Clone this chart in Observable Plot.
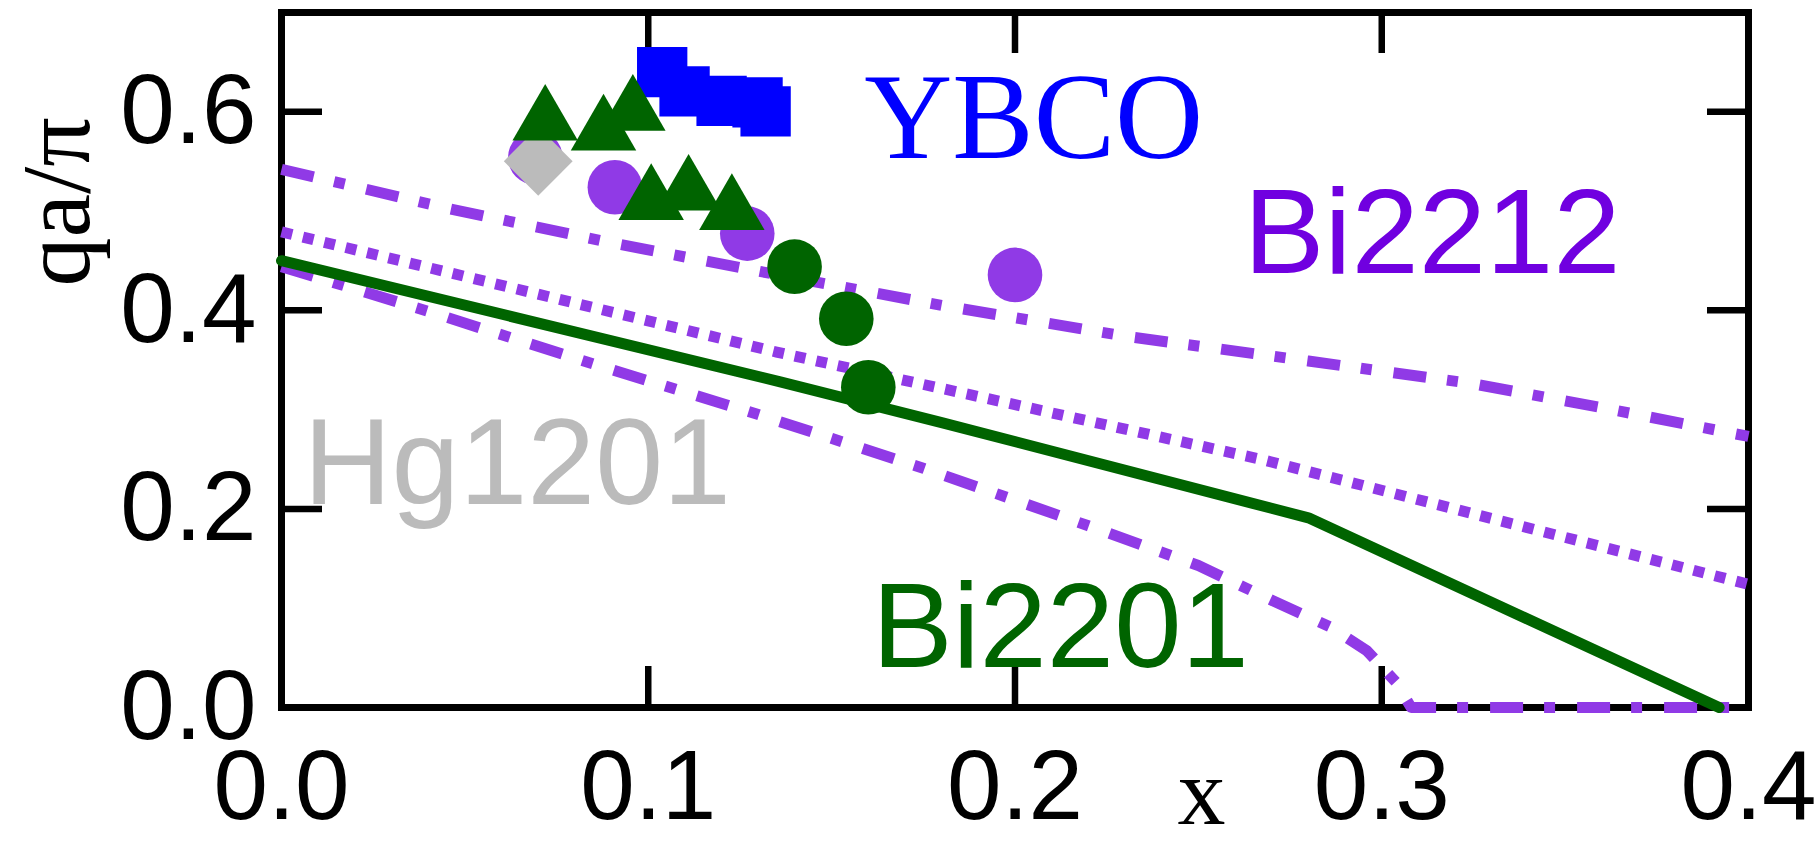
<!DOCTYPE html>
<html><head><meta charset="utf-8">
<script src="https://cdn.jsdelivr.net/npm/d3@7"></script>
<script src="https://cdn.jsdelivr.net/npm/@observablehq/plot@0.6"></script>
<style>html,body{margin:0;padding:0;background:#fff;overflow:hidden}</style>
</head><body><div id="chart"></div>
<script>
// ---- tick values ----
const xTickLabels = [0, 0.1, 0.2, 0.3, 0.4];
const yTickLabels = [0, 0.2, 0.4, 0.6];
const xInnerTicks = [0.1, 0.2, 0.3];
const yInnerTicks = [0.2, 0.4, 0.6];

// ---- markers ----
const ybcoX = [0.1038, 0.1099, 0.1200, 0.1298, 0.1320];
const ybcoY = [0.640, 0.6205, 0.611, 0.6095, 0.6004];
const bi2201TriX = [0.0719, 0.0878, 0.0958, 0.1008, 0.1110, 0.1228];
const bi2201TriY = [0.590, 0.580, 0.600, 0.510, 0.5195, 0.500];
const bi2201CircX = [0.1399, 0.1540, 0.1600];
const bi2201CircY = [0.444, 0.3915, 0.3225];
const bi2212X = [0.0692, 0.0909, 0.1270, 0.2000];
const bi2212Y = [0.554, 0.524, 0.4773, 0.4357];
const hg1201X = [0.0700];
const hg1201Y = [0.5502];

// ---- curves ----
const upperDashDotX = [0, 0.045, 0.09, 0.135, 0.18, 0.23, 0.28, 0.325, 0.36, 0.4];
const upperDashDotY = [0.542, 0.503, 0.468, 0.436, 0.405, 0.374, 0.349, 0.326, 0.302, 0.273];
const dottedX = [0, 0.135, 0.2, 0.267, 0.4];
const dottedY = [0.479, 0.358, 0.305, 0.25, 0.124];
const solidX = [0, 0.136, 0.18, 0.28, 0.392];
const solidY = [0.450, 0.328, 0.287, 0.191, 0];
const lowerDashDotX = [0, 0.04, 0.085, 0.13, 0.175, 0.22, 0.25, 0.27, 0.286, 0.296, 0.304, 0.308, 0.4];
const lowerDashDotY = [0.444, 0.399, 0.346, 0.295, 0.241, 0.183, 0.143, 0.108, 0.081, 0.057, 0.025, 0, 0];

// ---- labels ----
const labelText = ["YBCO", "Bi2212", "Hg1201", "Bi2201"];
const labelX = [0.1589, 0.2624, 0.006, 0.161];
const labelY = [0.5539, 0.438, 0.205, 0.0406];

const zip = (xs, ys) => xs.map((x, i) => ({x, y: ys[i]}));

const W = 1820, H = 845;
const mL = 281, mR = 72, mT = 12, mB = 138;
const pw = W - mL - mR, ph = H - mT - mB;
const tickLen = 41;

const PURPLE = "#903ae6";
const GREEN = "#006400";
const BLUE = "#0000ff";
const GRAY = "#bbbbbb";
const SANS = "Liberation Sans, Arial, Helvetica, sans-serif";
const SERIF = "Liberation Serif, Times New Roman, serif";

const labelMark = (i, fill, font, size) =>
  Plot.text([labelText[i]], {
    x: () => labelX[i], y: () => labelY[i], text: d => d,
    fill, fontFamily: font, fontSize: size, textAnchor: "start", lineAnchor: "bottom"
  });

const chart = Plot.plot({
  width: W, height: H,
  marginLeft: mL, marginRight: mR, marginTop: mT, marginBottom: mB,
  style: {background: "white", fontFamily: SANS, color: "black"},
  x: {domain: [0, 0.4], label: null},
  y: {domain: [0, 0.7], label: null},
  marks: [
    Plot.axisX({ticks: xTickLabels, tickSize: 0, tickPadding: 42, tickFormat: d3.format(".1f"), fontSize: 98, label: null}),
    Plot.axisY({ticks: yTickLabels, tickSize: 0, tickPadding: 25, tickFormat: d3.format(".1f"), fontSize: 98, label: null}),
    Plot.frame({stroke: "black", strokeWidth: 7}),
    Plot.tickY(yInnerTicks, {y: d => d, insetRight: pw - tickLen, stroke: "black", strokeWidth: 6.5}),
    Plot.tickY(yInnerTicks, {y: d => d, insetLeft: pw - tickLen, stroke: "black", strokeWidth: 6.5}),
    Plot.tickX(xInnerTicks, {x: d => d, insetTop: ph - tickLen, stroke: "black", strokeWidth: 6.5}),
    Plot.tickX(xInnerTicks, {x: d => d, insetBottom: ph - tickLen, stroke: "black", strokeWidth: 6.5}),
    // curves
    Plot.line(zip(upperDashDotX, upperDashDotY), {x: "x", y: "y", stroke: PURPLE, strokeWidth: 11, strokeDasharray: "33,21,11,22", strokeLinecap: "butt"}),
    Plot.line(zip(dottedX, dottedY), {x: "x", y: "y", stroke: PURPLE, strokeWidth: 11, strokeDasharray: "11,11", strokeLinecap: "butt"}),
    Plot.line(zip(lowerDashDotX, lowerDashDotY), {x: "x", y: "y", stroke: PURPLE, strokeWidth: 11, strokeDasharray: "33,21,11,22", strokeLinecap: "butt"}),
    Plot.line(zip(solidX, solidY), {x: "x", y: "y", stroke: GREEN, strokeWidth: 11}),
    // markers
    Plot.dot(zip(bi2212X, bi2212Y), {x: "x", y: "y", r: 27.3, fill: PURPLE}),
    Plot.dot(zip(hg1201X, hg1201Y), {x: "x", y: "y", symbol: "diamond2", r: 31, fill: GRAY}),
    Plot.dot(zip(bi2201CircX, bi2201CircY), {x: "x", y: "y", r: 27.3, fill: GREEN}),
    Plot.dot(zip(ybcoX, ybcoY), {x: "x", y: "y", symbol: "square", r: 28.4, fill: BLUE}),
    Plot.dot(zip(bi2201TriX, bi2201TriY), {x: "x", y: "y", symbol: "triangle", r: 24.3, fill: GREEN}),
    // labels
    labelMark(0, BLUE, SERIF, 122),
    labelMark(1, "#7000e0", SANS, 121),
    labelMark(2, GRAY, SANS, 122),
    labelMark(3, GREEN, SANS, 121),
    // axis titles
    Plot.text(["qa/π"], {frameAnchor: "top-left", text: d => d, dx: 88 - mL, dy: 201.5 - mT, rotate: -90,
      textAnchor: "middle", lineAnchor: "bottom", fontSize: 98, fontFamily: SERIF, fill: "black"}),
    Plot.text(["x"], {frameAnchor: "bottom-left", text: d => d, dx: 1201 - mL, dy: 823 - (H - mB),
      textAnchor: "middle", lineAnchor: "bottom", fontSize: 96, fontFamily: SERIF, fill: "black"})
  ]
});
document.getElementById("chart").appendChild(chart);
</script></body></html>
